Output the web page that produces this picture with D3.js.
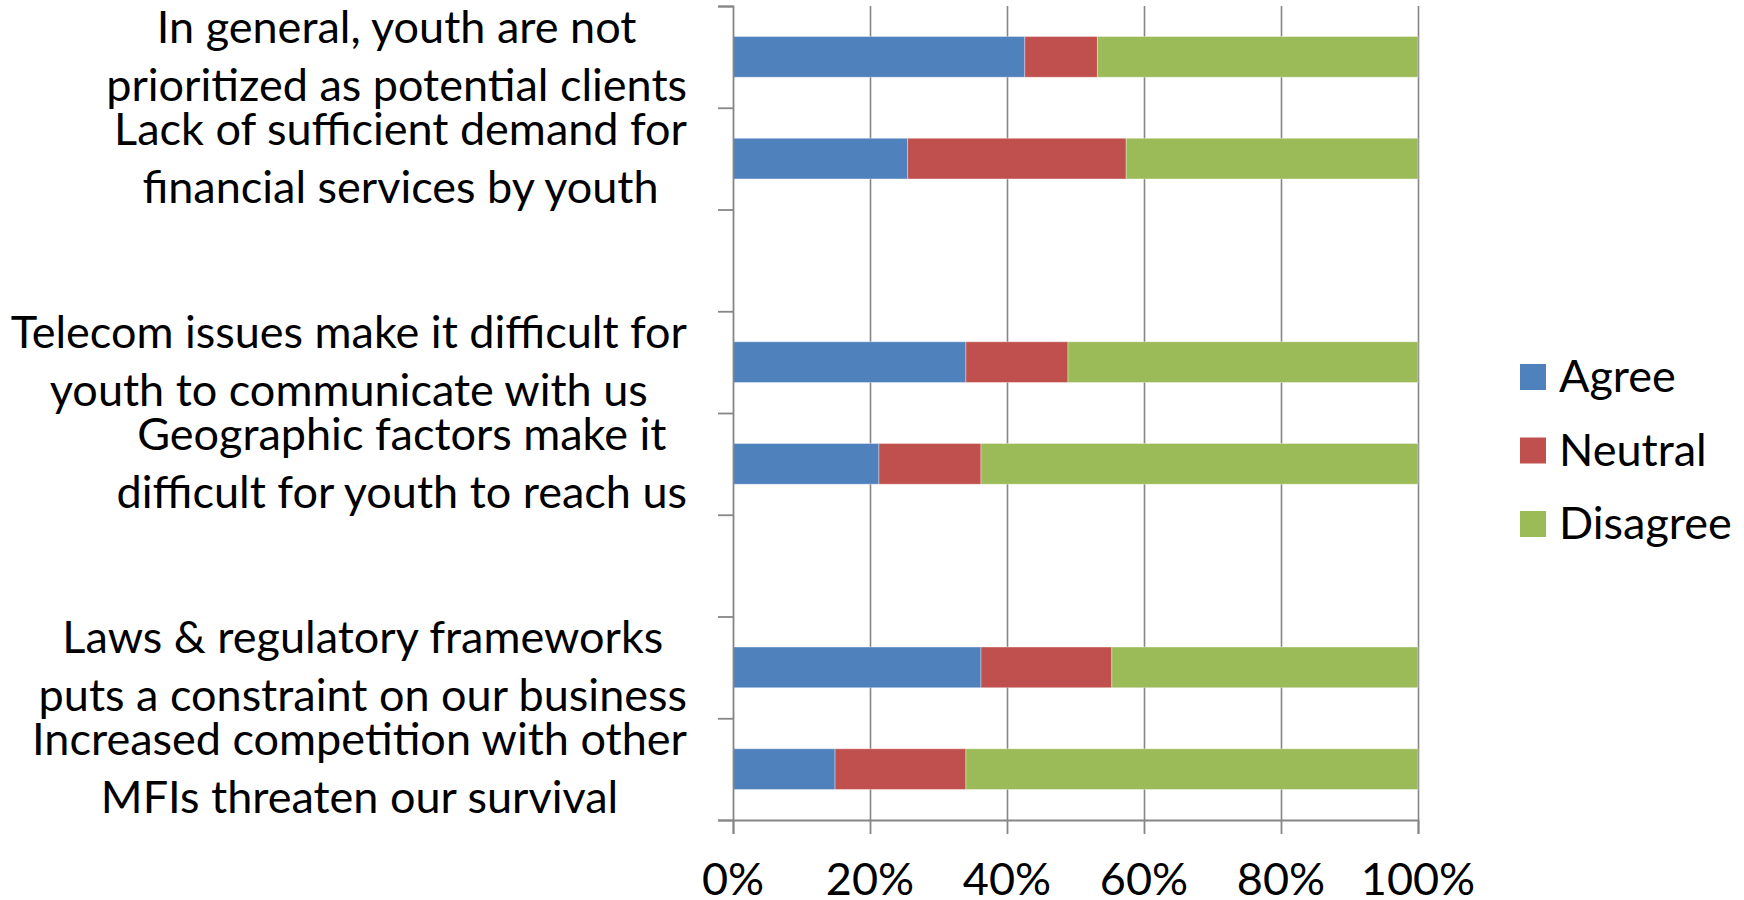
<!DOCTYPE html>
<html>
<head>
<meta charset="utf-8">
<script src="https://cdn.jsdelivr.net/npm/d3@7/dist/d3.min.js"></script>
<style>
  html, body { margin: 0; padding: 0; background: #fff; }
  svg { display: block; }
  text { font-family: Lato, "Open Sans", sans-serif; fill: #000; }
</style>
</head>
<body>
<svg id="chart" width="1744" height="900"></svg>
<script>
// Survey: obstacles to serving youth (share of respondents, %)
// Empty entries are spacer rows between groups of statements.
const categories = [
  ["In general, youth are not", "prioritized as potential clients"],
  ["Lack of sufficient demand for", "financial services by youth"],
  [],
  ["Telecom issues make it difficult for", "youth to communicate with us"],
  ["Geographic factors make it", "difficult for youth to reach us"],
  [],
  ["Laws & regulatory frameworks", "puts a constraint on our business"],
  ["Increased competition with other", "MFIs threaten our survival"]
];
const agree    = [42.6, 25.5, null, 34.0, 21.3, null, 36.2, 14.9];
const neutral  = [10.6, 31.9, null, 14.9, 14.9, null, 19.1, 19.1];
const disagree = [46.8, 42.6, null, 51.1, 63.8, null, 44.7, 66.0];

const seriesNames = ["Agree", "Neutral", "Disagree"];
const seriesColors = ["#4F81BD", "#C0504D", "#9BBB59"];
const xTicks = [0, 20, 40, 60, 80, 100];

const svg = d3.select("#chart");
const plot = { left: 733, right: 1418, top: 6, bottom: 820 };
const fontSize = 45;
const gridColor = "#868686";

const rows = categories.map((lines, i) => ({
  index: i,
  lines,
  Agree: agree[i],
  Neutral: neutral[i],
  Disagree: disagree[i]
}));

const x = d3.scaleLinear().domain([0, 100]).range([plot.left, plot.right]);
const y = d3.scaleBand()
  .domain(d3.range(categories.length))
  .range([plot.top, plot.bottom])
  .paddingInner(0.6)
  .paddingOuter(0.3);
// category boundaries for the tick marks on the vertical axis
const yEdge = d3.scaleLinear().domain([0, categories.length]).range([plot.top, plot.bottom]);

const color = d3.scaleOrdinal().domain(seriesNames).range(seriesColors);

// vertical gridlines
const grid = svg.append("g")
  .attr("transform", `translate(0,${plot.bottom})`)
  .call(d3.axisBottom(x).tickValues(xTicks.slice(1)).tickSize(-(plot.bottom - plot.top)).tickFormat(""));
grid.select(".domain").remove();
grid.selectAll("line").attr("stroke", gridColor).attr("stroke-width", 1.6);

// stacked bars
const stacked = d3.stack()
  .keys(seriesNames)
  .value((d, k) => d[k] == null ? 0 : d[k])(rows.filter(r => r.Agree != null));

svg.append("g").selectAll("g")
  .data(stacked)
  .join("g")
  .attr("fill", d => color(d.key))
  .selectAll("rect")
  .data(d => d)
  .join("rect")
  .attr("x", d => x(d[0]))
  .attr("width", d => x(d[1]) - x(d[0]))
  .attr("y", d => y(d.data.index))
  .attr("height", y.bandwidth())
  .attr("stroke", "rgba(255,255,255,0.35)")
  .attr("stroke-width", 1);

// vertical (category) axis with ticks on category boundaries
const yAxis = svg.append("g")
  .attr("transform", `translate(${plot.left},0)`)
  .call(d3.axisLeft(yEdge).tickValues(d3.range(categories.length + 1)).tickSize(15).tickFormat(""));
yAxis.select(".domain").attr("stroke", gridColor).attr("stroke-width", 1.8);
yAxis.selectAll("line").attr("stroke", gridColor).attr("stroke-width", 1.8);

// horizontal (value) axis
const xAxis = svg.append("g")
  .attr("transform", `translate(0,${plot.bottom})`)
  .call(d3.axisBottom(x).tickValues(xTicks).tickSize(14).tickFormat(""));
xAxis.select(".domain").attr("stroke", gridColor).attr("stroke-width", 1.8);
xAxis.selectAll("line").attr("stroke", gridColor).attr("stroke-width", 1.8);

svg.append("g").selectAll("text")
  .data(xTicks)
  .join("text")
  .attr("x", d => x(d))
  .attr("y", 895)
  .attr("text-anchor", "middle")
  .attr("font-size", fontSize)
  .text(d => d + "%");

// category labels: each block centred on its longest line, right edge near the axis
const labelRight = plot.left - 46;
const lineGap = 58;
const labelG = svg.append("g");
rows.filter(r => r.lines.length).forEach(r => {
  const cy = y(r.index) + y.bandwidth() / 2;
  const g = labelG.append("g");
  const texts = g.selectAll("text")
    .data(r.lines)
    .join("text")
    .attr("font-size", fontSize)
    .attr("text-anchor", "middle")
    .attr("y", (d, i) => cy - 14 + i * lineGap)
    .text(d => d);
  let maxW = 0;
  texts.each(function () { maxW = Math.max(maxW, this.getComputedTextLength()); });
  texts.attr("x", labelRight - maxW / 2);
});

// legend
const legend = svg.append("g").attr("transform", "translate(1520,377)");
const item = legend.selectAll("g")
  .data(seriesNames)
  .join("g")
  .attr("transform", (d, i) => `translate(0,${i * 73.5})`);
item.append("rect")
  .attr("x", 0).attr("y", -13)
  .attr("width", 26).attr("height", 26)
  .attr("fill", d => color(d));
item.append("text")
  .attr("x", 39).attr("y", 15)
  .attr("font-size", fontSize)
  .text(d => d);
</script>
</body>
</html>
